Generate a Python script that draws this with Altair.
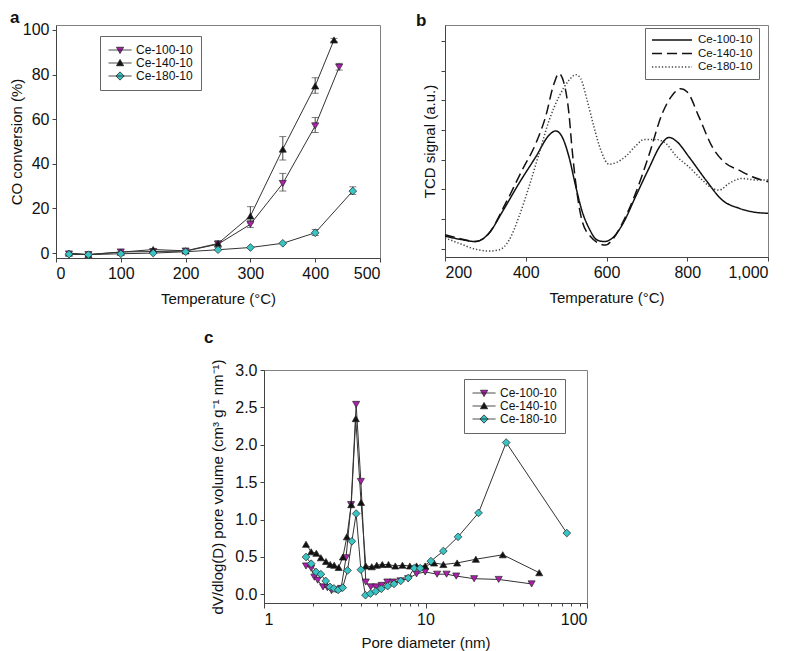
import altair as alt
import pandas as pd

FONT = "Liberation Sans"
SERIES = ["Ce-100-10", "Ce-140-10", "Ce-180-10"]
FILLS = ["#b01eb0", "#111111", "#38c4c4"]
SHAPES = ["triangle-down", "triangle-up", "diamond"]
# legend symbols: a short line with the marker on it (unit box = sqrt(symbolSize) px)
LEGEND_PATHS = [
    "M-1,0L3.2,0M0.45,-0.5L1.75,-0.5L1.1,0.65Z",
    "M-1,0L3.2,0M0.45,0.5L1.75,0.5L1.1,-0.65Z",
    "M-1,0L3.2,0M1.1,-0.75L1.85,0L1.1,0.75L0.35,0Z",
]
LINE_PATH = "M-1,0L7,0"

# ---------------- panel a : CO conversion ----------------
a_temp_100 = [20, 50, 100, 150, 200, 250, 300, 350, 400, 437]
a_conv_100 = [-0.4, -0.7, 0.5, 0.7, 0.9, 4.0, 12.9, 31.2, 57.0, 83.3]
a_temp_140 = [20, 50, 100, 150, 200, 250, 300, 350, 400, 429]
a_conv_140 = [0.0, -0.6, 0.4, 1.6, 1.0, 4.3, 16.6, 46.6, 74.9, 95.5]
a_temp_180 = [20, 50, 100, 150, 200, 250, 300, 350, 400, 458]
a_conv_180 = [-0.5, -0.7, -0.3, 0.0, 0.6, 1.5, 2.5, 4.4, 9.1, 27.8]

a_err_series = ["Ce-100-10"] * 4 + ["Ce-140-10"] * 5 + ["Ce-180-10"] * 2
a_err_temp = [300, 350, 400, 437, 250, 300, 350, 400, 429, 400, 458]
a_err_low = [11.5, 27.8, 54.0, 82.0, 2.5, 13.5, 41.7, 71.6, 94.8, 7.9, 26.3]
a_err_high = [14.5, 35.7, 60.7, 85.0, 5.5, 20.8, 52.2, 78.6, 96.2, 10.6, 29.7]

# ---------------- panel b : TPR ----------------
b_temp_100 = [200, 235, 276, 309, 342, 383, 425, 458, 474, 490, 507, 524, 540, 557, 577,
              594, 614, 639, 672, 705, 734, 755, 775, 804, 846, 887, 928, 961, 1000]
b_sig_100 = [0.43, 0.33, 0.25, 0.53, 1.25, 2.2, 3.1, 3.83, 3.97, 3.77, 3.1, 2.09, 1.25, 0.69, 0.30,
             0.25, 0.36, 0.81, 1.76, 2.71, 3.49, 3.75, 3.6, 3.1, 2.32, 1.64, 1.37, 1.25, 1.2]
b_temp_140 = [200, 235, 276, 309, 350, 391, 425, 449, 470, 482, 495, 507, 515, 524, 540, 561,
              581, 598, 614, 639, 672, 705, 738, 763, 784, 800, 829, 862, 895, 928, 961, 1000]
b_sig_140 = [0.48, 0.36, 0.25, 0.53, 1.53, 2.65, 3.55, 4.44, 5.56, 5.9, 5.56, 4.55, 3.32, 2.2, 0.92, 0.41,
             0.19, 0.13, 0.3, 0.86, 1.87, 3.15, 4.55, 5.17, 5.39, 5.28, 4.44, 3.43, 2.88, 2.65, 2.43, 2.26]
b_temp_180 = [200, 235, 276, 309, 334, 359, 383, 408, 433, 458, 482, 507, 524, 536, 552, 569, 586,
              606, 623, 648, 672, 693, 722, 747, 771, 804, 837, 862, 879, 903, 936, 970, 1000]
b_sig_180 = [0.37, 0.19, -0.01, -0.07, -0.03, 0.3, 1.08, 2.09, 3.21, 4.33, 5.11, 5.67, 5.86, 5.73, 5.0, 4.1, 3.32,
             2.85, 2.9, 3.12, 3.46, 3.68, 3.68, 3.55, 3.15, 2.76, 2.32, 2.04, 1.98, 2.2, 2.37, 2.32, 2.32]
b_ticks = [0, 1, 2, 3, 4, 5, 6, 7]

# ---------------- panel c : pore size distribution ----------------
c_diam_100 = [1.82, 1.96, 2.05, 2.15, 2.32, 2.47, 2.62, 2.80, 3.00, 3.22, 3.46, 3.72, 3.98, 4.27, 4.58,
              4.94, 5.35, 5.8, 6.3, 7.0, 7.8, 8.8, 9.95, 11.8, 13.5, 15.5, 20.0, 28.4, 45.4]
c_vol_100 = [0.38, 0.35, 0.23, 0.19, 0.10, 0.09, 0.05, 0.06, 0.08, 0.49, 1.20, 2.54, 1.51, 0.165, 0.10,
             0.10, 0.12, 0.165, 0.165, 0.18, 0.21, 0.275, 0.30, 0.27, 0.27, 0.245, 0.21, 0.20, 0.14]
c_diam_140 = [1.82, 1.96, 2.11, 2.25, 2.42, 2.57, 2.72, 2.90, 3.08, 3.26, 3.47, 3.70, 3.99, 4.27, 4.65,
              4.99, 5.4, 5.9, 6.5, 7.2, 8.0, 8.8, 9.95, 11.3, 12.9, 15.7, 20.5, 30.1, 50.6]
c_vol_140 = [0.67, 0.57, 0.55, 0.49, 0.44, 0.40, 0.39, 0.36, 0.50, 0.77, 1.20, 2.35, 1.23, 0.38, 0.37,
             0.39, 0.40, 0.40, 0.38, 0.39, 0.38, 0.38, 0.38, 0.42, 0.40, 0.42, 0.47, 0.53, 0.29]
c_diam_180 = [1.82, 1.96, 2.10, 2.25, 2.41, 2.56, 2.71, 2.88, 3.07, 3.29, 3.50, 3.72, 3.98, 4.25, 4.56,
              4.92, 5.33, 5.83, 6.38, 7.02, 7.82, 8.51, 9.27, 10.8, 12.9, 15.9, 21.3, 31.6, 75.0]
c_vol_180 = [0.50, 0.41, 0.30, 0.27, 0.18, 0.10, 0.08, 0.06, 0.09, 0.32, 0.71, 1.08, 0.33, -0.01, 0.01,
             0.04, 0.075, 0.11, 0.14, 0.18, 0.22, 0.35, 0.35, 0.445, 0.58, 0.77, 1.09, 2.03, 0.82]
c_xvalues = [1, 2, 3, 4, 5, 6, 7, 8, 9, 10, 20, 30, 40, 50, 60, 70, 80, 90, 100]


def long_df(xs_list, ys_list, xname, yname):
    rows = []
    for s, xs, ys in zip(SERIES, xs_list, ys_list):
        for x, y in zip(xs, ys):
            rows.append({"series": s, xname: x, yname: y})
    return pd.DataFrame(rows)


dfa = long_df([a_temp_100, a_temp_140, a_temp_180], [a_conv_100, a_conv_140, a_conv_180], "T", "C")
dfa_err = pd.DataFrame({"series": a_err_series, "T": a_err_temp, "lo": a_err_low, "hi": a_err_high})
dfb = long_df([b_temp_100, b_temp_140, b_temp_180], [b_sig_100, b_sig_140, b_sig_180], "T", "S")
dfc = long_df([c_diam_100, c_diam_140, c_diam_180], [c_vol_100, c_vol_140, c_vol_180], "D", "V")

LINE = "#333333"
EDGE = "#222222"
INDEP = dict(fill="independent", shape="independent", color="independent",
             strokeDash="independent", stroke="independent")


def panel_title(letter, dx, offset):
    return alt.TitleParams(letter, anchor="start", frame="group", dx=dx, offset=offset,
                           fontSize=17, fontWeight="bold", font=FONT, color="#111111")


def marker_legend(x, y, fs, row_pad):
    return alt.Legend(title=None, orient="none", legendX=x, legendY=y, padding=8,
                      fillColor="white", strokeColor="#666666", labelFont=FONT,
                      labelFontSize=fs, labelColor="#111111", symbolSize=121,
                      symbolStrokeColor=EDGE, symbolStrokeWidth=0.8, labelOffset=16,
                      rowPadding=row_pad, cornerRadius=0)


def series_layers(df, xenc, yenc, legend, size_tri=50, size_dia=60):
    layers = [alt.Chart(df).mark_line(color=LINE, strokeWidth=1).encode(
        x=xenc(), y=yenc(), detail="series:N")]
    for s, f, sh in zip(SERIES, FILLS, SHAPES):
        layers.append(
            alt.Chart(df).transform_filter(alt.datum.series == s).mark_point(
                filled=True, fill=f, shape=sh, size=size_dia if sh == "diamond" else size_tri,
                stroke=EDGE, strokeWidth=0.7, opacity=1).encode(x=xenc(), y=yenc()))
    layers.append(
        alt.Chart(df).transform_filter("false").mark_point(
            filled=True, strokeWidth=0.7, opacity=1).encode(
            x=xenc(), y=yenc(),
            fill=alt.Fill("series:N", scale=alt.Scale(domain=SERIES, range=FILLS), legend=legend),
            stroke=alt.Stroke("series:N", scale=alt.Scale(domain=SERIES, range=[EDGE, EDGE, EDGE]), legend=legend),
            shape=alt.Shape("series:N", scale=alt.Scale(domain=SERIES, range=LEGEND_PATHS), legend=legend)))
    return layers


# ---------- panel a ----------
def xa():
    return alt.X("T:Q", scale=alt.Scale(domain=[0, 500], nice=False, zero=False),
                 axis=alt.Axis(values=[0, 100, 200, 300, 400, 500], title="Temperature (°C)", titlePadding=10))


def ya(field="C"):
    return alt.Y(field, type="quantitative", scale=alt.Scale(domain=[-2.2, 102.2], nice=False, zero=False),
                 axis=alt.Axis(values=[0, 20, 40, 60, 80, 100], title="CO conversion (%)", titlePadding=-2))


err_a = alt.Chart(dfa_err).mark_errorbar(ticks=True, size=7, thickness=1, color="#444444").encode(
    x=xa(), y=ya("lo"), y2="hi:Q")
layers_a = series_layers(dfa, xa, ya, marker_legend(44, 11, 12, 1))
chart_a = alt.layer(err_a, *layers_a).properties(
    width=324, height=233, title=panel_title("a", -46, -5))

# ---------- panel b ----------
LEG_B = alt.Legend(title=None, orient="none", legendX=200, legendY=3, padding=6,
                   fillColor="white", strokeColor="#666666", labelFont=FONT, labelFontSize=11.5,
                   labelColor="#111111", symbolType=LINE_PATH, symbolSize=100, symbolStrokeWidth=1.5,
                   labelOffset=35, rowPadding=1.5, cornerRadius=0)
chart_b = alt.Chart(dfb).mark_line(interpolate="monotone", strokeWidth=1.5).encode(
    x=alt.X("T:Q", scale=alt.Scale(domain=[200, 1000], nice=False, zero=False),
            axis=alt.Axis(values=[200, 400, 600, 800, 1000], format=",d", title="Temperature (°C)", titlePadding=10)),
    y=alt.Y("S:Q", scale=alt.Scale(domain=[-0.27, 7.53], nice=False, zero=False),
            axis=alt.Axis(values=b_ticks, labels=False, title="TCD signal (a.u.)", titlePadding=3)),
    color=alt.Color("series:N", scale=alt.Scale(domain=SERIES, range=["#111111", "#111111", "#444444"]),
                    legend=LEG_B),
    strokeDash=alt.StrokeDash("series:N", scale=alt.Scale(domain=SERIES, range=[[1, 0], [10, 5], [1.3, 2]]),
                              legend=LEG_B),
).properties(width=323, height=232, title=panel_title("b", -29, -5))


# ---------- panel c ----------
def xc():
    return alt.X("D:Q", scale=alt.Scale(type="log", domain=[1, 100], nice=False),
                 axis=alt.Axis(values=c_xvalues, title="Pore diameter (nm)", titlePadding=8,
                               labelExpr="(datum.value == 1 || datum.value == 10 || datum.value == 100) ? datum.label : ''",
                               tickSize={"condition": {"test": "datum.value == 1 || datum.value == 10 || datum.value == 100",
                                                       "value": 5}, "value": 3}))


def yc():
    return alt.Y("V:Q", scale=alt.Scale(domain=[-0.115, 3.0], nice=False, zero=False),
                 axis=alt.Axis(values=[0, 0.5, 1.0, 1.5, 2.0, 2.5, 3.0], format=".1f",
                               title="dV/dlog(D) pore volume (cm³ g⁻¹ nm⁻¹)", titlePadding=9))


layers_c = series_layers(dfc, xc, yc, marker_legend(200, 9, 12, 1))
chart_c = alt.layer(*layers_c).properties(width=323, height=233, title=panel_title("c", -60, 12))

spacer = alt.Chart(pd.DataFrame({"v": [0]})).mark_point(opacity=0).encode(
    x=alt.value(0), y=alt.value(0)).properties(width=198, height=233,
                                               view=alt.ViewBackground(strokeOpacity=0))

top = alt.hconcat(chart_a, chart_b, spacing=65, bounds="flush").resolve_scale(**INDEP).resolve_legend(**INDEP)
bottom = alt.hconcat(spacer, chart_c, spacing=10, bounds="flush").resolve_scale(**INDEP).resolve_legend(**INDEP)
chart = alt.vconcat(top, bottom, spacing=21).resolve_scale(**INDEP).resolve_legend(**INDEP).properties(
    padding=0, background="white"
).configure_view(
    stroke="#808080", strokeWidth=1
).configure_axis(
    labelFont=FONT, labelFontSize=16, labelColor="#111111", labelPadding=3,
    titleFont=FONT, titleFontSize=15, titleFontWeight="normal", titleColor="#111111",
    domainColor="#444444", tickColor="#444444", tickSize=4, grid=False,
)

chart.save("out.html", embed_options={"renderer": "svg", "actions": False})
